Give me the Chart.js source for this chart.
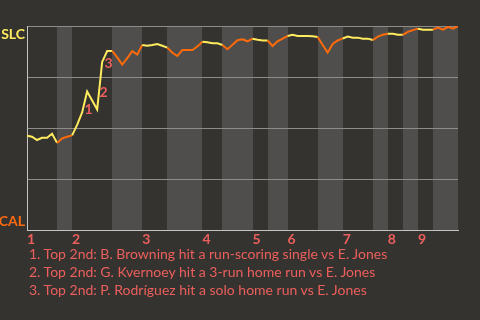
<!DOCTYPE html>
<html><head><meta charset="utf-8">
<script src="https://cdn.jsdelivr.net/npm/chart.js@4.4.1/dist/chart.umd.min.js"></script>
<style>
html,body{margin:0;padding:0;background:#353330;}
#wrap{position:relative;width:480px;height:320px;overflow:hidden;background:#353330;}
canvas{position:absolute;left:0;top:0;}
#notes{position:absolute;left:29px;top:245px;font-family:Lato,sans-serif;font-size:14px;line-height:18px;color:#ec5f5c;white-space:nowrap;}
</style></head><body>
<div id="wrap"><canvas id="c" width="480" height="320"></canvas><div id="notes"></div></div>
<script>
// Win probability for SLC (1 = SLC wins, 0 = CAL wins), one value per plate appearance
const winProb = [
  0.462, 0.457, 0.441, 0.452, 0.452, 0.472, 0.427, 0.449, 0.457, 0.464,
  0.515, 0.576, 0.679, 0.635, 0.591, 0.824, 0.877, 0.878, 0.846, 0.811,
  0.842, 0.877, 0.860, 0.907, 0.903, 0.907, 0.912, 0.903, 0.894, 0.869,
  0.853, 0.882, 0.882, 0.882, 0.900, 0.923, 0.920, 0.915, 0.915, 0.907,
  0.886, 0.908, 0.930, 0.935, 0.925, 0.938, 0.933, 0.929, 0.929, 0.902,
  0.925, 0.938, 0.951, 0.957, 0.951, 0.951, 0.951, 0.950, 0.946, 0.907,
  0.870, 0.912, 0.929, 0.939, 0.948, 0.943, 0.943, 0.938, 0.938, 0.931,
  0.948, 0.957, 0.962, 0.962, 0.957, 0.957, 0.971, 0.980, 0.987, 0.982,
  0.982, 0.982, 0.992, 0.982, 0.996, 0.987, 1.000
];
// event index where each half-inning starts
const topStarts    = [0, 9, 23, 35, 45, 52, 63, 72, 78];
const bottomStarts = [6, 17, 28, 39, 48, 58, 69, 75, 81];
const inningLabels = ['1','2','3','4','5','6','7','8','9'];
const awayTeam = 'SLC';
const homeTeam = 'CAL';
// key events
const eventIndex = [12, 15, 16];
const eventMarks = ['1', '2', '3'];
const eventNotes = [
  '1. Top 2nd: B. Browning hit a run-scoring single vs E. Jones',
  '2. Top 2nd: G. Kvernoey hit a 3-run home run vs E. Jones',
  '3. Top 2nd: P. Rodríguez hit a solo home run vs E. Jones'
];

const YELLOW = '#ffec5e';
const ORANGE = '#ff6a0a';
const RED = '#ec5f5c';
const FONT = 'Lato, sans-serif';

document.getElementById('notes').innerHTML = eventNotes.map(t => '<div>' + t + '</div>').join('');

function isTopHalf(idx) {
  for (let k = topStarts.length - 1; k >= 0; k--) {
    if (idx >= topStarts[k]) return idx < bottomStarts[k];
  }
  return true;
}

const lastIndex = winProb.length - 1;

const bandsPlugin = {
  id: 'bands',
  beforeDraw(chart) {
    const {ctx, chartArea, scales} = chart;
    const x = scales.x;
    ctx.save();
    ctx.fillStyle = '#4f4e4c';
    for (let k = 0; k < bottomStarts.length; k++) {
      const end = k + 1 < topStarts.length ? topStarts[k + 1] : lastIndex;
      const x0 = Math.round(x.getPixelForValue(bottomStarts[k]));
      const x1 = Math.round(x.getPixelForValue(end));
      ctx.fillRect(x0, chartArea.top, x1 - x0, chartArea.bottom - chartArea.top);
    }
    ctx.restore();
  }
};

const marksPlugin = {
  id: 'marks',
  afterDatasetsDraw(chart) {
    const {ctx, scales} = chart;
    ctx.save();
    ctx.fillStyle = RED;
    ctx.font = 'bold 14px ' + FONT;
    ctx.textAlign = 'center';
    ctx.textBaseline = 'middle';
    eventIndex.forEach((e, k) => {
      const xa = scales.x.getPixelForValue(e - 1), ya = scales.y.getPixelForValue(winProb[e - 1]);
      const xb = scales.x.getPixelForValue(e), yb = scales.y.getPixelForValue(winProb[e]);
      ctx.fillText(eventMarks[k], (xa + xb) / 2 + 4, (ya + yb) / 2 + 7);
    });
    ctx.restore();
  }
};

new Chart(document.getElementById('c'), {
  type: 'line',
  data: {
    datasets: [{
      data: winProb.map((v, i) => ({x: i, y: v})),
      borderWidth: 2,
      pointRadius: 0,
      tension: 0,
      borderColor: YELLOW,
      segment: {
        borderColor: c => isTopHalf(c.p0DataIndex) ? YELLOW : ORANGE
      }
    }]
  },
  options: {
    responsive: false,
    animation: false,
    layout: {padding: {left: 0, top: 26, right: 22, bottom: 70}},
    plugins: {legend: {display: false}, tooltip: {enabled: false}},
    scales: {
      x: {
        type: 'linear',
        min: 0,
        max: lastIndex,
        grid: {display: false, drawTicks: false},
        border: {display: true, color: '#c4c4c2', width: 1},
        afterBuildTicks: s => { s.ticks = topStarts.map(v => ({value: v})); },
        afterFit: s => { s.height = 20; },
        ticks: {
          autoSkip: false,
          maxRotation: 0,
          align: 'start',
          padding: 1,
          color: RED,
          font: {family: FONT, weight: 'bold', size: 14},
          callback: (v, i) => inningLabels[i]
        }
      },
      y: {
        min: 0,
        max: 1,
        grid: {color: '#8d8c89', drawTicks: false},
        border: {display: true, color: '#c4c4c2', width: 1},
        afterFit: s => { s.width = 27; },
        ticks: {
          stepSize: 0.25,
          padding: 2,
          font: {family: FONT, weight: 'bold', size: 14, lineHeight: 1.15},
          color: c => c.tick && c.tick.value === 1 ? YELLOW : ORANGE,
          callback: v => v === 1 ? ['', awayTeam] : (v === 0 ? [homeTeam, ''] : '')
        }
      }
    }
  },
  plugins: [bandsPlugin, marksPlugin]
});
</script>
</body></html>
